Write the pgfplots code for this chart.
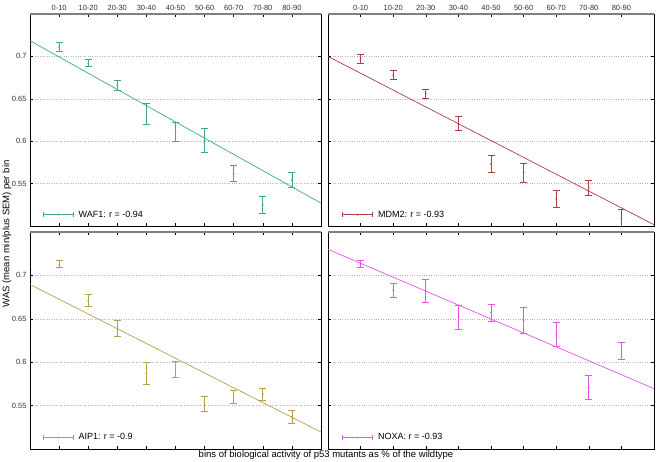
\documentclass[border=0pt]{standalone}
\usepackage{pgfplots}
\pgfplotsset{compat=1.18}
\usepackage{fontspec}
\setmainfont{Liberation Sans}

\definecolor{cwaf}{RGB}{60,170,135}
\definecolor{cmdm}{RGB}{175,60,70}
\definecolor{caip}{RGB}{180,160,70}
\definecolor{cnox}{RGB}{235,80,235}

\pgfplotsset{
  panel/.style={
    scale only axis,
    anchor=north west,
    xmin=0, xmax=10,
    ymin=0.5, ymax=0.75,
    xtick={1,...,9},
    ytick={0.55,0.6,0.65,0.7},
    xticklabels={},
    yticklabels={},
    tick align=inside,
    major tick length=3pt,
    tick style={black, line width=0.5pt},
    axis line style={black, line width=0.8pt},
    ymajorgrids=true,
    grid style={gray!60, dotted, line width=0.6pt},
    tick label style={font=\fontsize{7.5}{8}\selectfont, text=black!80},
    /pgf/number format/assume math mode=true,
    clip=true,
    legend style={at={(0.04,0.02)}, anchor=south west, draw=none, fill=none,
      font=\fontsize{9}{10}\selectfont, inner sep=1pt},
    legend cell align=left,
    after end axis/.code={
      \draw[gray, line width=1.5pt] (rel axis cs:0,1) -- (rel axis cs:1,1);
    },
  },
  errs/.style={
    draw=#1, fill=#1, color=#1, line width=0.8pt, mark=*, mark size=0.4pt, only marks,
    error bars/.cd, y dir=both, y explicit,
    error bar style={draw=#1, color=#1, line width=0.8pt},
    error mark options={draw=#1, color=#1, rotate=90, mark size=3.5pt, line width=0.8pt},
  },
  errleg/.style={
    legend image code/.code={
      \draw[##1, line width=0.8pt] (0pt,0pt) -- (30pt,0pt);
      \draw[##1, line width=0.8pt] (0pt,-2.5pt) -- (0pt,2.5pt);
      \draw[##1, line width=0.8pt] (30pt,-2.5pt) -- (30pt,2.5pt);
      \fill[##1] (15pt,0pt) circle (0.4pt);
      \path (33pt,0pt);
    },
  },
}

\pgfplotstableread{
x y e
1 0.711 0.005
2 0.692 0.004
3 0.666 0.006
4 0.632 0.0125
5 0.611 0.011
6 0.601 0.014
7 0.562 0.009
8 0.525 0.010
9 0.554 0.009
}\waf
\pgfplotstableread{
x y e
1 0.697 0.005
2 0.678 0.0053
3 0.656 0.005
4 0.621 0.008
5 0.573 0.010
6 0.563 0.011
7 0.532 0.0097
8 0.545 0.009
9 0.509 0.011
}\mdm
\pgfplotstableread{
x y e
1 0.713 0.004
2 0.671 0.007
3 0.639 0.009
4 0.587 0.0123
5 0.592 0.0093
6 0.552 0.009
7 0.560 0.008
8 0.563 0.007
9 0.537 0.008
}\aip
\pgfplotstableread{
x y e
1 0.713 0.004
2 0.683 0.008
3 0.682 0.0133
4 0.652 0.014
5 0.657 0.010
6 0.648 0.015
7 0.632 0.0135
8 0.571 0.0137
9 0.613 0.010
}\nox

\begin{document}
\begin{tikzpicture}
\path[use as bounding box] (0pt,0pt) rectangle (656pt,-461pt);

% top left: WAF1
\begin{axis}[panel, at={(30pt,-14pt)}, width=291pt, height=212pt,
  xticklabel pos=top, xticklabels={0-10,10-20,20-30,30-40,40-50,50-60,60-70,70-80,80-90},
  yticklabels={0.55,0.6,0.65,0.7}, errleg]
\addplot[errs=cwaf] table[x=x, y=y, y error=e] {\waf};
\addlegendentry{WAF1: r = -0.94}
\addplot[cwaf, line width=0.7pt, forget plot] coordinates {(0,0.7185) (10,0.527)};
\end{axis}

% top right: MDM2
\begin{axis}[panel, at={(328pt,-14pt)}, width=326pt, height=212pt,
  xticklabel pos=top, xticklabels={0-10,10-20,20-30,30-40,40-50,50-60,60-70,70-80,80-90}, errleg]
\addplot[errs=cmdm] table[x=x, y=y, y error=e] {\mdm};
\addlegendentry{MDM2: r = -0.93}
\addplot[cmdm, line width=0.7pt, forget plot] coordinates {(0,0.700) (10,0.5015)};
\end{axis}

% bottom left: AIP1
\begin{axis}[panel, at={(30pt,-232pt)}, width=291pt, height=217pt,
  yticklabels={0.55,0.6,0.65,0.7}, errleg]
\addplot[errs=caip] table[x=x, y=y, y error=e] {\aip};
\addlegendentry{AIP1: r = -0.9}
\addplot[caip, line width=0.7pt, forget plot] coordinates {(0,0.6896) (10,0.5195)};
\end{axis}

% bottom right: NOXA
\begin{axis}[panel, at={(328pt,-232pt)}, width=326pt, height=217pt, errleg]
\addplot[errs=cnox] table[x=x, y=y, y error=e] {\nox};
\addlegendentry{NOXA: r = -0.93}
\addplot[cnox, line width=0.7pt, forget plot] coordinates {(0,0.730) (10,0.5696)};
\end{axis}

\node[rotate=90, font=\fontsize{9.5}{10}\selectfont] at (7pt,-234pt) {WAS (mean min/plus SEM) per bin};
\node[font=\fontsize{9.5}{10}\selectfont] at (326pt,-455pt) {bins of biological activity of p53 mutants as \% of the wildtype};
\end{tikzpicture}
\end{document}
